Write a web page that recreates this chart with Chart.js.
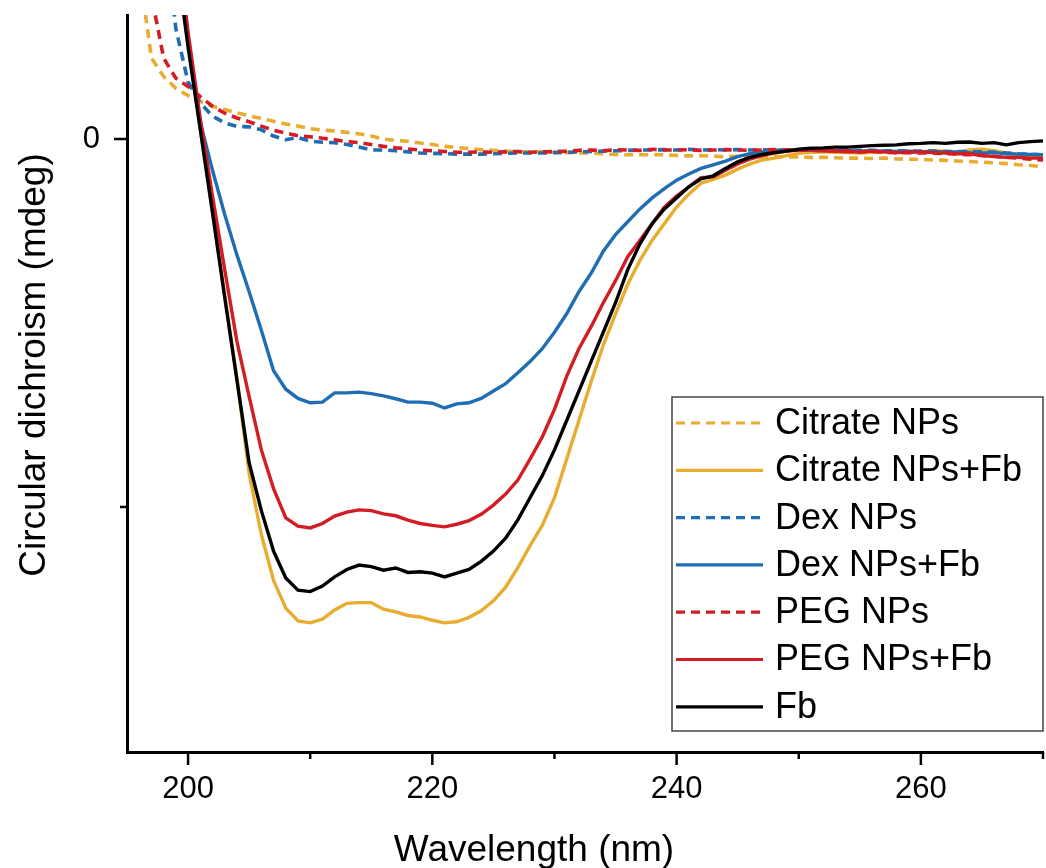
<!DOCTYPE html>
<html>
<head>
<meta charset="utf-8">
<script src="https://cdn.jsdelivr.net/npm/chart.js@4/dist/chart.umd.min.js"></script>
<style>
  html, body { margin: 0; padding: 0; background: #fff; }
  #cd { display: block; }
</style>
</head>
<body>
<canvas id="cd" width="1046" height="868"></canvas>
<script>
// CD spectra — NPs alone (dashed) vs NPs + fibrinogen (solid)
const wavelengths = [196, 197, 198, 199, 200, 201, 202, 203, 204, 205, 206, 207, 208, 209, 210,
  211, 212, 213, 214, 215, 216, 217, 218, 219, 220, 221, 222, 223, 224, 225, 226, 227, 228, 229, 230,
  231, 232, 233, 234, 235, 236, 237, 238, 239, 240, 241, 242, 243, 244, 245, 246, 247, 248, 249, 250,
  251, 252, 253, 254, 255, 256, 257, 258, 259, 260, 261, 262, 263, 264, 265, 266, 267, 268, 269, 270];

const citrateNPs = [4.6, 2.2, 1.7, 1.38, 1.18, 1.02, 0.89, 0.8, 0.71, 0.63, 0.56, 0.48, 0.41, 0.35, 0.28,
  0.24, 0.22, 0.18, 0.14, 0.08, 0.0, -0.04, -0.06, -0.11, -0.15, -0.2, -0.23, -0.26, -0.29, -0.31, -0.33, -0.35, -0.35, -0.35, -0.36,
  -0.37, -0.38, -0.38, -0.4, -0.42, -0.43, -0.43, -0.43, -0.43, -0.45, -0.46, -0.45, -0.47, -0.48, -0.47, -0.48, -0.49, -0.48, -0.49, -0.49,
  -0.5, -0.5, -0.51, -0.52, -0.52, -0.53, -0.52, -0.54, -0.55, -0.55, -0.57, -0.58, -0.6, -0.61, -0.63, -0.65, -0.67, -0.7, -0.72, -0.76];

const citrateFb = [null, null, null, 5.2, 2.6, 0.3, -2.0, -4.25, -6.5, -9.1, -10.75, -12.0, -12.75, -13.1, -13.15,
  -13.05, -12.8, -12.62, -12.6, -12.6, -12.78, -12.85, -12.95, -12.99, -13.08, -13.15, -13.12, -13.0, -12.82, -12.55, -12.18, -11.65, -11.05, -10.5, -9.75,
  -8.7, -7.65, -6.6, -5.6, -4.75, -3.95, -3.3, -2.75, -2.3, -1.85, -1.5, -1.2, -1.1, -0.98, -0.82, -0.68, -0.57, -0.52, -0.45, -0.39,
  -0.36, -0.35, -0.36, -0.37, -0.38, -0.36, -0.35, -0.36, -0.34, -0.35, -0.32, -0.33, -0.36, -0.3, -0.28, -0.32, -0.38, -0.42, -0.45, -0.43];

const dexNPs = [null, null, 6.0, 3.0, 1.55, 0.98, 0.62, 0.44, 0.34, 0.33, 0.25, 0.08, -0.02, 0.04, -0.06,
  -0.09, -0.1, -0.15, -0.22, -0.3, -0.3, -0.32, -0.35, -0.38, -0.39, -0.4, -0.41, -0.41, -0.41, -0.4, -0.39, -0.38, -0.38, -0.38, -0.37,
  -0.36, -0.35, -0.34, -0.33, -0.32, -0.31, -0.3, -0.3, -0.29, -0.3, -0.28, -0.3, -0.29, -0.3, -0.29, -0.3, -0.29, -0.3, -0.3, -0.3,
  -0.29, -0.31, -0.3, -0.3, -0.31, -0.31, -0.32, -0.32, -0.33, -0.33, -0.33, -0.34, -0.34, -0.35, -0.35, -0.36, -0.38, -0.4, -0.41, -0.43];

const dexFb = [null, null, null, 6.0, 2.8, 0.45, -0.85, -2.05, -3.15, -4.15, -5.2, -6.3, -6.8, -7.05, -7.17,
  -7.15, -6.9, -6.9, -6.88, -6.92, -6.98, -7.06, -7.15, -7.15, -7.18, -7.31, -7.2, -7.17, -7.05, -6.85, -6.65, -6.35, -6.05, -5.7, -5.25,
  -4.75, -4.15, -3.65, -3.05, -2.6, -2.25, -1.9, -1.6, -1.35, -1.12, -0.95, -0.8, -0.7, -0.6, -0.48, -0.4, -0.35, -0.32, -0.3, -0.3,
  -0.31, -0.3, -0.32, -0.31, -0.33, -0.32, -0.33, -0.34, -0.33, -0.35, -0.34, -0.36, -0.35, -0.37, -0.38, -0.37, -0.4, -0.41, -0.42, -0.43];

const pegNPs = [7.0, 3.9, 2.2, 1.65, 1.43, 1.15, 0.89, 0.7, 0.57, 0.47, 0.35, 0.24, 0.16, 0.09, 0.06,
  0.02, -0.02, -0.07, -0.1, -0.15, -0.2, -0.24, -0.27, -0.3, -0.32, -0.34, -0.36, -0.36, -0.35, -0.36, -0.35, -0.34, -0.36, -0.35, -0.34,
  -0.33, -0.31, -0.3, -0.32, -0.29, -0.3, -0.31, -0.28, -0.3, -0.3, -0.29, -0.31, -0.3, -0.29, -0.3, -0.31, -0.3, -0.29, -0.3, -0.3,
  -0.31, -0.32, -0.32, -0.33, -0.35, -0.34, -0.36, -0.37, -0.37, -0.38, -0.38, -0.4, -0.41, -0.43, -0.45, -0.47, -0.5, -0.52, -0.55, -0.57];

const pegFb = [null, null, null, 5.6, 2.9, 0.55, -1.55, -3.55, -5.5, -7.0, -8.45, -9.5, -10.3, -10.52, -10.57,
  -10.45, -10.25, -10.14, -10.08, -10.1, -10.19, -10.24, -10.36, -10.45, -10.5, -10.54, -10.47, -10.37, -10.2, -9.95, -9.65, -9.27, -8.7, -8.1, -7.35,
  -6.45, -5.7, -5.1, -4.45, -3.85, -3.2, -2.75, -2.3, -1.85, -1.55, -1.3, -1.05, -1.03, -0.85, -0.68, -0.55, -0.45, -0.38, -0.33, -0.3,
  -0.3, -0.32, -0.33, -0.35, -0.35, -0.33, -0.35, -0.37, -0.36, -0.35, -0.37, -0.38, -0.4, -0.4, -0.45, -0.48, -0.5, -0.5, -0.52, -0.52];

const fb = [null, null, null, 5.0, 2.5, 0.25, -2.0, -4.3, -6.55, -8.8, -10.1, -11.2, -11.93, -12.26, -12.3,
  -12.15, -11.9, -11.7, -11.58, -11.62, -11.72, -11.66, -11.78, -11.76, -11.8, -11.9, -11.8, -11.7, -11.48, -11.2, -10.85, -10.35, -9.75, -9.15, -8.45,
  -7.65, -6.85, -6.05, -5.25, -4.45, -3.55, -2.85, -2.3, -1.9, -1.6, -1.3, -1.08, -1.0, -0.8, -0.62, -0.5, -0.42, -0.37, -0.33, -0.28,
  -0.25, -0.24, -0.22, -0.22, -0.2, -0.18, -0.17, -0.16, -0.13, -0.12, -0.1, -0.12, -0.09, -0.08, -0.12, -0.1, -0.16, -0.1, -0.07, -0.05];

const seriesLabels = ['Citrate NPs', 'Citrate NPs+Fb', 'Dex NPs', 'Dex NPs+Fb', 'PEG NPs', 'PEG NPs+Fb', 'Fb'];
const xMajorTicks = [200, 220, 240, 260];
const xMinorTicks = [210, 230, 250, 270];
const yMajorTicks = [0];
const yMinorTicks = [-10];

const FONT = '"Liberation Sans", Arial, Helvetica, sans-serif';
const GOLD = '#e8ac30', BLUE = '#1f6db3', RED = '#d21d24', BLACK = '#000000';
const DASH = [9, 6];

function toPoints(vals) {
  return wavelengths.map((w, i) => ({ x: w, y: vals[i] }));
}

function line(label, vals, color, dashed, order) {
  return {
    label, data: toPoints(vals), borderColor: color, backgroundColor: color,
    borderWidth: dashed ? 3.6 : 3.4, borderDash: dashed ? DASH : [],
    pointRadius: 0, tension: 0, fill: false, order,
  };
}

// axis ticks, axis titles and the boxed legend inside the plot
const frameExtras = {
  id: 'frameExtras',
  afterDraw(chart) {
    const { ctx, chartArea: a, scales: { x, y } } = chart;
    ctx.save();
    ctx.strokeStyle = '#000';
    ctx.lineWidth = 2.5;
    ctx.setLineDash([]);
    const seg = (x1, y1, x2, y2) => { ctx.beginPath(); ctx.moveTo(x1, y1); ctx.lineTo(x2, y2); ctx.stroke(); };
    xMajorTicks.forEach((v) => { const p = x.getPixelForValue(v); seg(p, a.bottom, p, a.bottom + 13); });
    xMinorTicks.forEach((v) => { const p = x.getPixelForValue(v); seg(p, a.bottom, p, a.bottom + 7); });
    yMajorTicks.forEach((v) => { const p = y.getPixelForValue(v); seg(a.left, p, a.left - 13, p); });
    yMinorTicks.forEach((v) => { const p = y.getPixelForValue(v); seg(a.left, p, a.left - 7, p); });

    ctx.fillStyle = '#000';
    ctx.font = '37px ' + FONT;
    ctx.textAlign = 'center';
    ctx.textBaseline = 'alphabetic';
    ctx.fillText('Wavelength (nm)', 534, 861);
    ctx.save();
    ctx.translate(45, 365);
    ctx.rotate(-Math.PI / 2);
    ctx.fillText('Circular dichroism (mdeg)', 0, 0);
    ctx.restore();

    const box = { l: 672, t: 397, r: 1043, b: 731 };
    ctx.fillStyle = '#fff';
    ctx.fillRect(box.l, box.t, box.r - box.l, box.b - box.t);
    ctx.strokeStyle = '#444';
    ctx.lineWidth = 1.5;
    ctx.strokeRect(box.l, box.t, box.r - box.l, box.b - box.t);
    ctx.font = '36px ' + FONT;
    ctx.textAlign = 'left';
    ctx.textBaseline = 'middle';
    chart.data.datasets.forEach((ds, i) => {
      const ly = 423 + i * 47.3;
      ctx.strokeStyle = ds.borderColor;
      ctx.lineWidth = 3.2;
      ctx.setLineDash(ds.borderDash);
      seg(676, ly, 763, ly);
      ctx.setLineDash([]);
      ctx.fillStyle = '#000';
      ctx.fillText(ds.label, 775, ly + 1);
    });
    ctx.restore();
  },
};

Chart.defaults.font.family = FONT;
Chart.defaults.color = '#000';

new Chart(document.getElementById('cd'), {
  type: 'line',
  data: {
    datasets: [
      line(seriesLabels[0], citrateNPs, GOLD, true, 7),
      line(seriesLabels[1], citrateFb, GOLD, false, 6),
      line(seriesLabels[2], dexNPs, BLUE, true, 5),
      line(seriesLabels[3], dexFb, BLUE, false, 4),
      line(seriesLabels[4], pegNPs, RED, true, 3),
      line(seriesLabels[5], pegFb, RED, false, 2),
      line(seriesLabels[6], fb, BLACK, false, 1),
    ],
  },
  options: {
    responsive: false, animation: false, devicePixelRatio: 1,
    layout: { padding: { top: 15, right: 3, left: 0, bottom: 0 } },
    plugins: { legend: { display: false }, tooltip: { enabled: false } },
    scales: {
      x: {
        type: 'linear', min: 195, max: 270,
        afterBuildTicks: (s) => { s.ticks = xMajorTicks.map((v) => ({ value: v })); },
        afterFit: (s) => { s.height = 116; s.paddingLeft = 0; s.paddingRight = 0; },
        grid: { display: false, drawTicks: false },
        border: { display: true, color: '#000', width: 3 },
        ticks: { font: { size: 31, lineHeight: 1 }, padding: 22, color: '#000', maxRotation: 0 },
      },
      y: {
        type: 'linear', min: -16.66, max: 3.37,
        afterBuildTicks: (s) => { s.ticks = yMajorTicks.map((v) => ({ value: v })); },
        afterFit: (s) => { s.width = 127; s.paddingTop = 0; s.paddingBottom = 0; },
        grid: { display: false, drawTicks: false },
        border: { display: true, color: '#000', width: 3 },
        ticks: { font: { size: 31, lineHeight: 1 }, padding: 27, color: '#000' },
      },
    },
  },
  plugins: [frameExtras],
});
</script>
</body>
</html>
